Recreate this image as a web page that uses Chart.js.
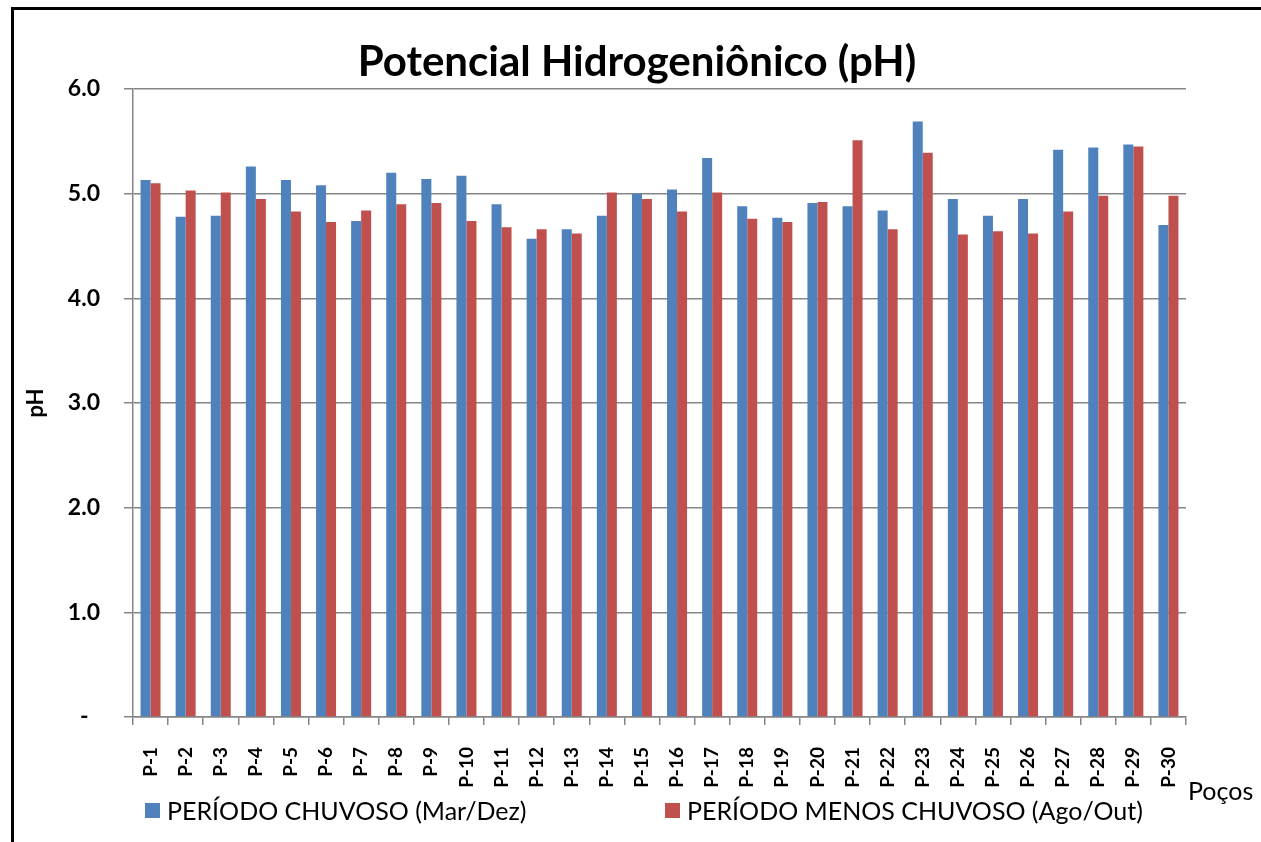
<!DOCTYPE html>
<html lang="pt">
<head>
<meta charset="utf-8">
<title>Potencial Hidrogeniônico (pH)</title>
<script src="https://cdn.jsdelivr.net/npm/chart.js@4.4.1/dist/chart.umd.min.js"></script>
<style>
  html, body { margin: 0; padding: 0; background: #fff; overflow: hidden; }
  #wrap { position: relative; width: 1261px; height: 842px; overflow: hidden; }
  #frame { position: absolute; left: 11px; top: 7px; width: 1300px; height: 900px;
           border-left: 3px solid #000; border-top: 3px solid #000; }
  #phChart { position: absolute; left: 0; top: 0; }
</style>
</head>
<body>
<div id="wrap">
  <div id="frame"></div>
  <canvas id="phChart" width="1261" height="842"></canvas>
</div>
<script>
// Data
const wells = ['P-1', 'P-2', 'P-3', 'P-4', 'P-5', 'P-6', 'P-7', 'P-8', 'P-9', 'P-10',
               'P-11', 'P-12', 'P-13', 'P-14', 'P-15', 'P-16', 'P-17', 'P-18', 'P-19', 'P-20',
               'P-21', 'P-22', 'P-23', 'P-24', 'P-25', 'P-26', 'P-27', 'P-28', 'P-29', 'P-30'];

const rainyPH = [5.13, 4.78, 4.79, 5.26, 5.13, 5.08, 4.74, 5.20, 5.14, 5.17,
                 4.90, 4.57, 4.66, 4.79, 5.00, 5.04, 5.34, 4.88, 4.77, 4.91,
                 4.88, 4.84, 5.69, 4.95, 4.79, 4.95, 5.42, 5.44, 5.47, 4.70];

const lessRainyPH = [5.10, 5.03, 5.01, 4.95, 4.83, 4.73, 4.84, 4.90, 4.91, 4.74,
                     4.68, 4.66, 4.62, 5.01, 4.95, 4.83, 5.01, 4.76, 4.73, 4.92,
                     5.51, 4.66, 5.39, 4.61, 4.64, 4.62, 4.83, 4.98, 5.45, 4.98];

const seriesNames = ['PERÍODO CHUVOSO (Mar/Dez)', 'PERÍODO MENOS CHUVOSO (Ago/Out)'];
const chartTitle = 'Potencial Hidrogeniônico (pH)';
const yMin = 0;
const yMax = 6;
const yStep = 1;

const FONT = 'Lato, "Open Sans", sans-serif';
const gridGray = '#868686';

// Title, legend and the "Poços" axis label
const chartText = {
    id: 'chartText',
    afterDraw(chart) {
        const ctx = chart.ctx;
        ctx.save();
        ctx.fillStyle = '#000';
        ctx.textBaseline = 'middle';

        ctx.textAlign = 'center';
        ctx.font = 'bold 42px ' + FONT;
        ctx.fillText(chartTitle, 637, 62);

        ctx.textAlign = 'left';
        ctx.font = '25px ' + FONT;
        ctx.fillText('Poços', 1188, 792);

        // legend
        const legendX = [145, 665];
        chart.data.datasets.forEach((ds, i) => {
            ctx.fillStyle = ds.backgroundColor;
            ctx.fillRect(legendX[i], 803, 15, 15);
            ctx.fillStyle = '#000';
            ctx.fillText(ds.label, legendX[i] + 22, 812);
        });
        ctx.restore();
    }
};

const ctx = document.getElementById('phChart').getContext('2d');

const chart = new Chart(ctx, {
    type: 'bar',
    data: {
        labels: wells,
        datasets: [{
            label: seriesNames[0],
            data: rainyPH,
            backgroundColor: '#4F81BD',
            borderWidth: 0
        }, {
            label: seriesNames[1],
            data: lessRainyPH,
            backgroundColor: '#C0504D',
            borderWidth: 0
        }]
    },
    options: {
        responsive: false,
        animation: false,
        devicePixelRatio: 1,
        categoryPercentage: 0.57,
        barPercentage: 1.0,
        layout: {
            padding: { top: 89, right: 75, bottom: 50, left: 0 }
        },
        plugins: {
            legend: { display: false },
            title: { display: false },
            tooltip: { enabled: false }
        },
        scales: {
            x: {
                afterFit: (scale) => { scale.height = 75; },
                grid: {
                    display: true,
                    drawOnChartArea: false,
                    drawTicks: true,
                    tickLength: 8,
                    color: gridGray,
                    lineWidth: 1.5
                },
                border: { display: true, color: gridGray, width: 1.5 },
                ticks: {
                    minRotation: 90,
                    maxRotation: 90,
                    autoSkip: false,
                    padding: 22,
                    color: '#000',
                    font: { family: FONT, size: 19, weight: 'bold' }
                }
            },
            y: {
                min: yMin,
                max: yMax,
                afterFit: (scale) => { scale.width = 133; },
                grid: {
                    color: gridGray,
                    lineWidth: 1.5,
                    tickLength: 9
                },
                border: { display: true, color: gridGray, width: 1.5 },
                ticks: {
                    stepSize: yStep,
                    padding: 24,
                    color: '#000',
                    font: { family: FONT, size: 23, weight: 'bold' },
                    callback: (v) => v === 0 ? '-\u2002' : v.toFixed(1)
                },
                title: {
                    display: true,
                    text: 'pH',
                    color: '#000',
                    padding: { top: 23, bottom: 0 },
                    font: { family: FONT, size: 22, weight: 'bold' }
                }
            }
        }
    },
    plugins: [chartText]
});
</script>
</body>
</html>
